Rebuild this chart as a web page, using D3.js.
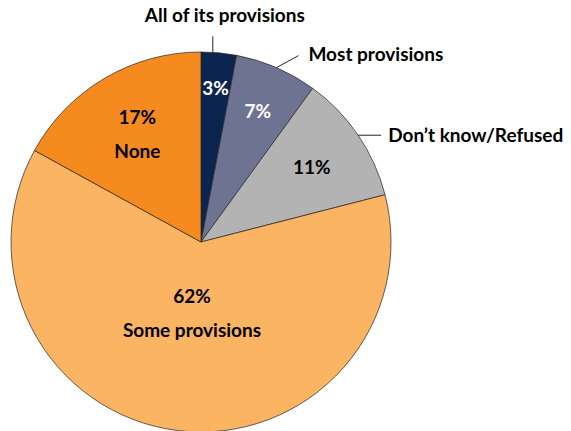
<!DOCTYPE html>
<html><head><meta charset="utf-8">
<script src="https://cdn.jsdelivr.net/npm/d3@7"></script>
<style>body{margin:0;background:#fff}svg{display:block}text{font-family:Lato,"Open Sans",sans-serif;font-weight:700}</style>
</head><body>
<script>
const categories = ["All of its provisions","Most provisions","Don\u2019t know/Refused","Some provisions","None"];
const values = [3,7,11,62,17];
const colors = ["#0b2550","#6f7392","#b3b3b3","#fbb462","#f58a1f"];
const labelColors = ["#fff","#fff","#000","#000","#000"];
const labelRadius = [155,143,134,72,125];
const insideName = [false,false,false,true,true];

const W=571,H=431, cx=201, cy=242, R=190;
const svg=d3.select("body").append("svg").attr("width",W).attr("height",H);
const g=svg.append("g").attr("transform",`translate(${cx},${cy})`);
const pie=d3.pie().sort(null).value(d=>d);
const arcs=pie(values);
const arc=d3.arc().innerRadius(0).outerRadius(R);
g.selectAll("path").data(arcs).join("path")
  .attr("d",arc).attr("fill",(d,i)=>colors[i])
  .attr("stroke","#222").attr("stroke-width",0.7);

const fs=19;
arcs.forEach((d,i)=>{
  const a=(d.startAngle+d.endAngle)/2;
  const r=labelRadius[i];
  const x=r*Math.sin(a), y=-r*Math.cos(a);
  if(insideName[i]){
    g.append("text").attr("x",x).attr("y",y-17+7).attr("text-anchor","middle").attr("font-size",fs).attr("fill",labelColors[i]).text(values[i]+"%");
    g.append("text").attr("x",x).attr("y",y+17+7).attr("text-anchor","middle").attr("font-size",fs).attr("fill",labelColors[i]).text(categories[i]);
  } else {
    g.append("text").attr("x",x).attr("y",y+7).attr("text-anchor","middle").attr("font-size",fs).attr("fill",labelColors[i]).text(values[i]+"%");
  }
});

// outside labels with leader lines
const outside=[
  {i:0, dx:0, dy:-16, tx:12, ty:-14, anchor:"middle"},
  {i:1, dx:22, dy:-12, tx:10, ty:5, anchor:"start"},
  {i:2, dx:23, dy:0, tx:7, ty:7, anchor:"start"}
];
outside.forEach(o=>{
  const d=arcs[o.i];
  let a=(d.startAngle+d.endAngle)/2;
  if(o.i===0) a=d.startAngle+(d.endAngle-d.startAngle)*0.33;
  const x0=R*Math.sin(a), y0=-R*Math.cos(a);
  const x1=x0+o.dx, y1=y0+o.dy;
  g.append("line").attr("x1",x0).attr("y1",y0).attr("x2",x1).attr("y2",y1).attr("stroke","#222").attr("stroke-width",1);
  g.append("text").attr("x",x1+o.tx).attr("y",y1+o.ty).attr("text-anchor",o.anchor).attr("font-size",fs).attr("fill","#000").text(categories[o.i]);
});
</script>
</body></html>
